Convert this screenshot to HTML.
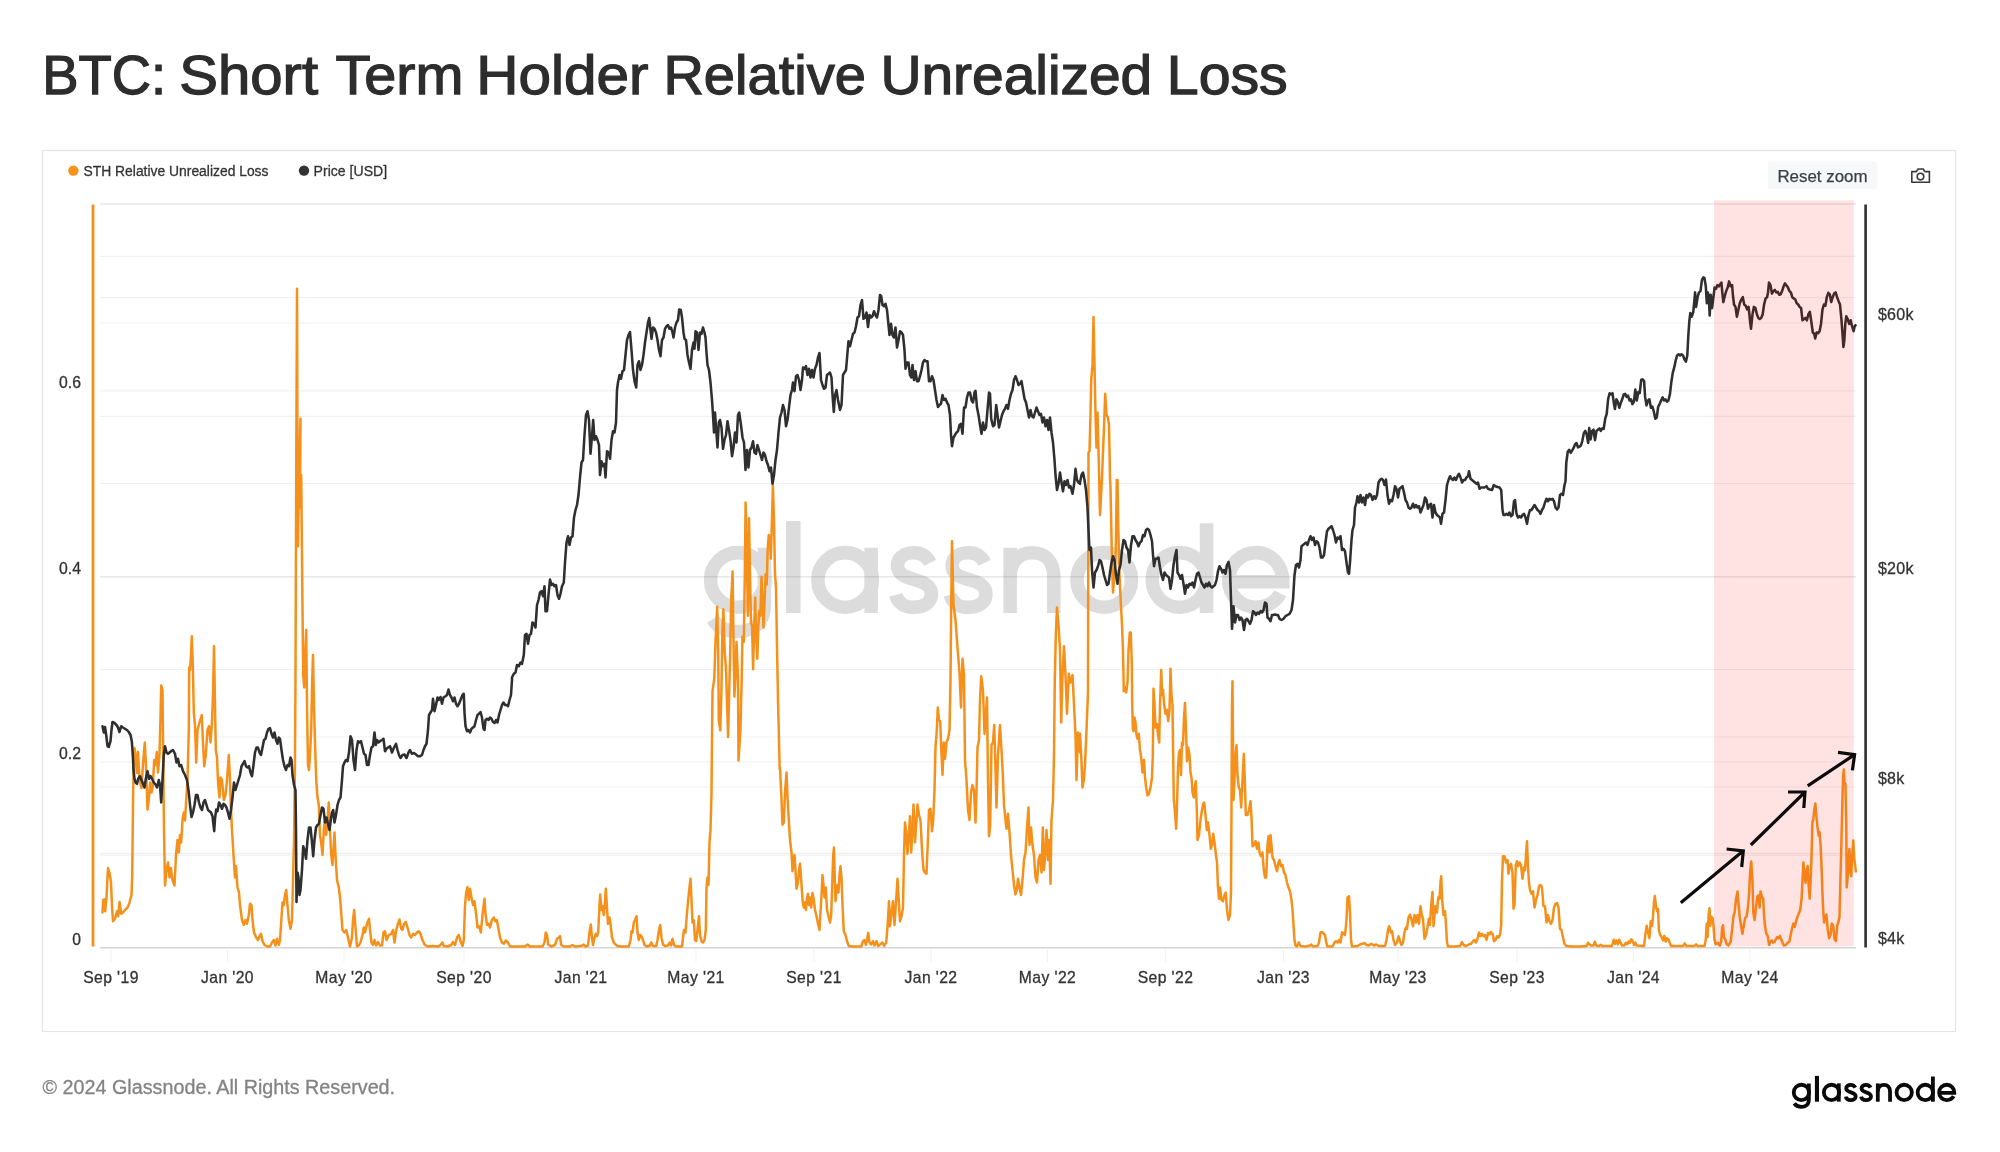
<!DOCTYPE html>
<html><head><meta charset="utf-8"><title>BTC: Short Term Holder Relative Unrealized Loss</title>
<style>
html,body{margin:0;padding:0;background:#fff;}
body{width:2000px;height:1152px;overflow:hidden;position:relative;font-family:"Liberation Sans",sans-serif;}
svg{position:absolute;left:0;top:0;will-change:transform;}
text{font-family:"Liberation Sans",sans-serif;}
.s text{stroke:#333;stroke-width:0.3px;}
</style></head><body>
<svg width="2000" height="1152" viewBox="0 0 2000 1152">
<rect x="0" y="0" width="2000" height="1152" fill="#ffffff"/>

<text x="42.13" y="93.7" font-size="54.8" fill="#2d2d2d" stroke="#2d2d2d" stroke-width="1.25" textLength="123.97" lengthAdjust="spacingAndGlyphs">BTC:</text>
<text x="179.28" y="93.7" font-size="54.8" fill="#2d2d2d" stroke="#2d2d2d" stroke-width="1.25" textLength="138.80" lengthAdjust="spacingAndGlyphs">Short</text>
<text x="335.45" y="93.7" font-size="54.8" fill="#2d2d2d" stroke="#2d2d2d" stroke-width="1.25" textLength="127.97" lengthAdjust="spacingAndGlyphs">Term</text>
<text x="476.33" y="93.7" font-size="54.8" fill="#2d2d2d" stroke="#2d2d2d" stroke-width="1.25" textLength="172.22" lengthAdjust="spacingAndGlyphs">Holder</text>
<text x="663.41" y="93.7" font-size="54.8" fill="#2d2d2d" stroke="#2d2d2d" stroke-width="1.25" textLength="202.42" lengthAdjust="spacingAndGlyphs">Relative</text>
<text x="880.45" y="93.7" font-size="54.8" fill="#2d2d2d" stroke="#2d2d2d" stroke-width="1.25" textLength="271.81" lengthAdjust="spacingAndGlyphs">Unrealized</text>
<text x="1166.82" y="93.7" font-size="54.8" fill="#2d2d2d" stroke="#2d2d2d" stroke-width="1.25" textLength="120.91" lengthAdjust="spacingAndGlyphs">Loss</text>
<rect x="42.5" y="150.5" width="1913" height="881" fill="#fff" stroke="#e3e3e3" stroke-width="1.2"/>
<g class="s">
<circle cx="73.4" cy="170.6" r="5.2" fill="#f7931a"/>
<text x="83.5" y="175.7" font-size="14.7" fill="#333" textLength="185" lengthAdjust="spacingAndGlyphs">STH Relative Unrealized Loss</text>
<circle cx="304" cy="170.6" r="5.2" fill="#333"/>
<text x="313.6" y="175.7" font-size="14.7" fill="#333" textLength="73.5" lengthAdjust="spacingAndGlyphs">Price [USD]</text>
</g>
<rect x="1768" y="161.5" width="109.5" height="27.5" rx="3" fill="#f7f8fa"/>
<text x="1777.4" y="182.4" font-size="16.4" fill="#3a3f47" stroke="#3a3f47" stroke-width="0.25" textLength="90.2" lengthAdjust="spacingAndGlyphs">Reset zoom</text>
<g fill="none" stroke="#3a3a3a" stroke-width="1.6" stroke-linejoin="round"><path d="M1911.8 171.6h4.6l1.6-2.6h5.2l1.6 2.6h4.6v10.6h-17.6z"/><circle cx="1920.5" cy="176.6" r="3.3"/></g>
<line x1="100" x2="1856" y1="204.0" y2="204.0" stroke="#000" stroke-opacity="0.058" stroke-width="1.2"/>
<line x1="100" x2="1856" y1="256.3" y2="256.3" stroke="#000" stroke-opacity="0.058" stroke-width="1.2"/>
<line x1="100" x2="1856" y1="297.5" y2="297.5" stroke="#000" stroke-opacity="0.058" stroke-width="1.2"/>
<line x1="100" x2="1856" y1="323.0" y2="323.0" stroke="#000" stroke-opacity="0.058" stroke-width="1.2"/>
<line x1="100" x2="1856" y1="390.8" y2="390.8" stroke="#000" stroke-opacity="0.058" stroke-width="1.2"/>
<line x1="100" x2="1856" y1="416.3" y2="416.3" stroke="#000" stroke-opacity="0.058" stroke-width="1.2"/>
<line x1="100" x2="1856" y1="483.5" y2="483.5" stroke="#000" stroke-opacity="0.058" stroke-width="1.2"/>
<line x1="100" x2="1856" y1="576.8" y2="576.8" stroke="#000" stroke-opacity="0.058" stroke-width="1.2"/>
<line x1="100" x2="1856" y1="576.8" y2="576.8" stroke="#000" stroke-opacity="0.058" stroke-width="1.2"/>
<line x1="100" x2="1856" y1="669.5" y2="669.5" stroke="#000" stroke-opacity="0.058" stroke-width="1.2"/>
<line x1="100" x2="1856" y1="737.0" y2="737.0" stroke="#000" stroke-opacity="0.058" stroke-width="1.2"/>
<line x1="100" x2="1856" y1="762.0" y2="762.0" stroke="#000" stroke-opacity="0.058" stroke-width="1.2"/>
<line x1="100" x2="1856" y1="787.0" y2="787.0" stroke="#000" stroke-opacity="0.058" stroke-width="1.2"/>
<line x1="100" x2="1856" y1="853.4" y2="853.4" stroke="#000" stroke-opacity="0.058" stroke-width="1.2"/>
<line x1="100" x2="1856" y1="855.2" y2="855.2" stroke="#000" stroke-opacity="0.058" stroke-width="1.2"/>
<line x1="100" x2="1856" y1="204" y2="204" stroke="#000" stroke-opacity="0.06" stroke-width="1.4"/>
<line x1="100" x2="1856" y1="947.7" y2="947.7" stroke="#d4d4d4" stroke-width="1.5"/>
<line x1="111.0" x2="111.0" y1="948.4" y2="962" stroke="#f3f3f3" stroke-width="1.2"/>
<line x1="227.5" x2="227.5" y1="948.4" y2="962" stroke="#f3f3f3" stroke-width="1.2"/>
<line x1="344.0" x2="344.0" y1="948.4" y2="962" stroke="#f3f3f3" stroke-width="1.2"/>
<line x1="464.0" x2="464.0" y1="948.4" y2="962" stroke="#f3f3f3" stroke-width="1.2"/>
<line x1="581.0" x2="581.0" y1="948.4" y2="962" stroke="#f3f3f3" stroke-width="1.2"/>
<line x1="696.0" x2="696.0" y1="948.4" y2="962" stroke="#f3f3f3" stroke-width="1.2"/>
<line x1="814.0" x2="814.0" y1="948.4" y2="962" stroke="#f3f3f3" stroke-width="1.2"/>
<line x1="931.0" x2="931.0" y1="948.4" y2="962" stroke="#f3f3f3" stroke-width="1.2"/>
<line x1="1047.5" x2="1047.5" y1="948.4" y2="962" stroke="#f3f3f3" stroke-width="1.2"/>
<line x1="1165.5" x2="1165.5" y1="948.4" y2="962" stroke="#f3f3f3" stroke-width="1.2"/>
<line x1="1283.5" x2="1283.5" y1="948.4" y2="962" stroke="#f3f3f3" stroke-width="1.2"/>
<line x1="1398.0" x2="1398.0" y1="948.4" y2="962" stroke="#f3f3f3" stroke-width="1.2"/>
<line x1="1517.0" x2="1517.0" y1="948.4" y2="962" stroke="#f3f3f3" stroke-width="1.2"/>
<line x1="1633.5" x2="1633.5" y1="948.4" y2="962" stroke="#f3f3f3" stroke-width="1.2"/>
<line x1="1750.0" x2="1750.0" y1="948.4" y2="962" stroke="#f3f3f3" stroke-width="1.2"/>
<g transform="translate(-5682.33 -3313.42) scale(3.5640)">
<g fill="none" stroke="#000000" stroke-width="3.8" opacity="0.135">
<circle cx="1801.4" cy="1092.4" r="7.65"/>
<path d="M1808.85 1083.4V1099.5C1808.85 1104.6 1805.6 1106.9 1801.3 1106.9C1798.2 1106.9 1795.8 1105.6 1794.3 1103.4"/>
<path d="M1816.95 1075.9V1101.7" stroke-width="4.1"/>
<circle cx="1831.5" cy="1092.4" r="7.65"/>
<path d="M1838.8 1083.4V1101.7"/>
<path d="M1855.30 1087.6C1854.40 1085.7 1852.80 1084.8 1850.80 1084.8C1848.20 1084.8 1846.20 1086.1 1846.20 1088.3C1846.20 1093.6 1855.70 1091.0 1855.70 1096.5C1855.70 1098.9 1853.40 1100.1 1850.70 1100.1C1848.20 1100.1 1846.30 1099.0 1845.70 1096.6"/>
<path d="M1870.60 1087.6C1869.70 1085.7 1868.10 1084.8 1866.10 1084.8C1863.50 1084.8 1861.50 1086.1 1861.50 1088.3C1861.50 1093.6 1871.00 1091.0 1871.00 1096.5C1871.00 1098.9 1868.70 1100.1 1866.00 1100.1C1863.50 1100.1 1861.60 1099.0 1861.00 1096.6"/>
<path d="M1877.8 1083.4V1101.7"/>
<path d="M1877.8 1091.5C1877.8 1087.2 1880.4 1084.8 1884 1084.8C1887.6 1084.8 1890.05 1087.2 1890.05 1091.5V1101.7"/>
<circle cx="1904.2" cy="1092.4" r="7.65"/>
<circle cx="1925.3" cy="1092.4" r="7.65"/>
<path d="M1932.9 1076.5V1101.7"/>
<path d="M1939.3 1092.9H1954.3C1954.3 1088.3 1951.2 1084.75 1946.75 1084.75C1942.5 1084.75 1939.1 1088.2 1939.1 1092.4C1939.1 1096.7 1942.5 1100.05 1946.75 1100.05C1949.9 1100.05 1952.4 1098.5 1953.6 1096.2"/>
</g>
</g>
<line x1="93" x2="93" y1="204.5" y2="946.6" stroke="#f5911b" stroke-width="2.8"/>
<polyline fill="none" stroke="#f5911b" stroke-width="2.5" stroke-linejoin="round" stroke-linecap="round" points="102.5,912.5 103.2,900.0 104.5,899.5 105.2,911.2 106.5,897.5 108.0,868.0 109.5,873.0 111.0,882.5 112.0,906.2 113.0,921.2 115.0,918.8 117.0,911.2 118.2,916.2 119.5,902.0 121.2,913.8 123.0,912.5 125.0,910.0 127.5,907.5 129.2,903.8 130.5,898.8 131.5,895.0 132.2,875.0 133.0,805.0 133.8,755.0 134.5,748.0 135.5,755.0 136.8,773.0 138.0,752.0 139.5,780.0 141.5,788.0 143.0,763.8 144.8,742.5 145.8,762.5 146.8,787.5 147.5,809.5 149.0,797.5 150.2,782.5 151.5,792.5 152.8,786.2 154.2,760.0 155.5,765.0 156.8,752.0 158.0,772.5 159.5,755.0 160.5,717.5 161.2,685.5 162.5,690.0 163.2,755.0 164.0,830.0 165.0,885.5 166.5,870.0 168.0,862.5 169.5,877.5 170.8,868.0 172.5,880.0 174.5,885.5 176.0,855.0 177.5,840.0 178.8,852.5 180.0,835.0 181.2,842.5 182.5,820.0 183.8,812.5 185.0,820.5 186.2,800.0 187.5,780.0 188.8,730.0 189.2,667.5 190.0,670.0 191.0,655.0 191.8,636.2 192.8,665.0 193.8,712.5 195.0,725.0 196.2,762.5 197.5,730.0 199.5,722.5 201.8,715.0 203.0,742.5 204.2,766.2 205.8,755.0 207.5,730.0 209.0,726.2 210.5,742.5 211.8,725.0 213.0,695.0 214.0,646.2 215.0,705.0 215.8,750.0 217.0,757.5 218.2,785.0 219.5,797.5 220.5,777.5 222.0,780.0 223.8,800.0 225.5,795.0 227.0,780.0 228.8,755.0 230.0,780.0 230.8,805.0 232.0,830.0 233.5,855.0 235.0,877.5 236.0,866.2 237.5,887.5 239.0,892.5 240.0,905.0 242.0,920.0 243.8,925.0 245.5,920.0 247.0,923.8 248.8,915.0 250.0,903.8 251.5,905.0 252.5,920.0 254.0,932.5 256.2,937.5 258.0,940.0 259.5,936.2 261.0,933.8 262.5,941.2 264.5,945.0 267.5,946.5 270.0,946.5 272.0,942.5 273.8,940.0 275.5,945.5 277.0,938.8 278.8,945.0 280.0,940.0 281.5,917.5 282.5,902.5 283.8,905.0 285.0,895.0 286.2,890.0 287.5,905.0 288.8,920.0 290.5,928.8 292.0,920.0 293.0,880.0 294.0,842.5 294.8,780.0 295.5,680.0 296.2,480.0 297.0,288.8 297.5,455.0 298.0,546.2 299.0,480.0 300.5,418.8 300.0,507.5 301.2,475.0 302.2,580.0 303.2,675.0 304.2,687.5 305.2,655.0 306.2,630.0 307.0,705.0 308.0,765.0 309.0,770.0 310.0,755.0 311.2,730.0 312.2,680.0 313.0,655.0 314.0,705.0 315.0,742.5 316.2,780.0 317.5,797.5 318.8,805.0 320.0,835.0 321.2,842.5 322.5,855.0 323.8,830.0 325.0,820.0 326.2,835.0 327.5,820.0 328.8,802.5 330.0,830.0 331.2,855.0 332.5,865.0 333.8,845.0 334.5,832.5 335.5,855.0 337.0,880.0 338.8,887.5 340.0,897.5 341.2,912.5 342.5,930.0 344.5,932.5 346.2,930.0 348.0,937.5 350.0,946.5 352.0,937.5 353.0,920.0 354.2,910.0 355.5,927.5 357.0,946.5 358.8,945.5 360.5,942.5 362.5,935.0 363.8,927.5 365.0,932.5 367.0,923.8 369.0,918.8 370.0,930.0 371.5,942.5 373.0,945.0 374.5,940.0 376.2,945.5 378.0,942.0 380.0,945.5 382.0,945.5 383.5,932.5 385.0,931.2 386.5,940.0 388.8,935.0 391.2,933.8 393.0,930.0 394.5,942.5 396.2,930.0 398.0,923.8 399.5,919.5 401.2,928.8 402.5,930.0 404.0,923.8 405.8,922.0 407.5,927.5 409.5,935.0 411.2,937.5 413.2,933.8 415.0,935.0 417.0,932.5 418.8,931.2 420.5,933.8 422.5,940.0 424.5,944.5 427.5,946.5 432.5,946.0 437.5,946.5 440.0,945.5 442.5,942.5 443.8,946.0 447.5,946.5 451.2,945.0 453.0,942.0 455.0,945.0 457.0,937.5 458.8,935.0 460.5,941.2 462.5,946.0 463.8,940.0 465.0,905.0 466.2,892.5 467.5,887.0 468.8,900.0 470.0,888.8 471.5,897.5 473.0,905.0 474.5,901.2 476.2,915.0 477.5,927.5 479.2,926.2 480.8,932.5 482.5,915.0 484.5,898.8 485.5,913.8 487.0,925.0 488.8,923.8 490.0,927.5 491.8,920.0 493.8,917.5 495.0,921.2 496.8,920.0 498.2,927.5 500.0,937.5 502.0,942.5 503.8,943.8 505.8,940.5 508.0,942.5 510.0,946.5 515.0,946.5 525.0,946.5 527.5,944.5 530.0,946.5 542.5,946.5 544.5,942.5 545.8,932.5 547.0,935.0 548.2,944.5 551.2,946.5 555.0,945.0 557.0,938.8 558.8,937.5 560.0,936.2 561.2,945.0 563.8,946.5 570.0,946.5 572.5,945.0 575.0,946.5 580.0,946.0 580.0,946.0 582.5,945.5 583.8,944.5 585.5,946.5 588.0,945.5 589.5,932.5 590.8,924.5 592.0,937.5 593.0,945.0 594.5,937.5 595.8,933.8 597.0,936.2 598.2,932.5 599.5,905.0 600.2,894.5 601.5,910.0 602.5,906.2 603.8,915.0 604.8,905.0 605.8,888.8 606.8,905.0 608.0,923.8 609.5,917.5 610.5,923.8 612.0,937.5 613.8,942.5 615.5,944.5 617.5,946.0 621.2,946.5 628.8,946.5 630.5,940.0 631.5,931.2 632.5,932.5 633.8,922.5 635.0,920.0 636.5,916.2 637.5,932.5 638.8,940.0 640.0,935.0 641.5,936.2 643.0,940.0 644.5,945.0 647.0,946.5 650.0,945.5 651.2,942.5 653.0,946.0 656.2,946.0 657.5,940.0 659.0,930.0 660.2,925.0 661.5,937.5 663.0,944.5 665.0,946.0 668.0,945.5 669.5,942.5 671.0,945.5 672.5,938.8 674.0,945.0 676.2,946.5 682.0,946.5 683.0,937.5 684.0,930.0 685.5,932.5 687.0,912.5 688.2,900.0 689.5,887.5 690.5,878.8 691.5,900.0 692.5,922.5 693.8,920.0 695.0,940.0 696.2,941.2 697.5,930.0 699.0,916.2 700.0,935.0 701.5,941.2 703.0,942.5 704.5,940.0 705.8,930.0 706.5,887.5 707.5,877.5 708.5,885.0 709.5,842.5 710.5,830.0 711.5,792.5 711.7,769.5 712.5,691.4 714.3,678.3 715.6,639.3 717.2,606.7 718.2,652.3 718.8,720.0 720.3,730.4 721.4,691.4 722.4,631.5 723.4,609.3 724.7,652.3 726.0,667.9 727.1,704.4 728.1,736.9 729.2,691.4 730.2,652.3 731.2,600.2 732.6,571.6 733.3,626.2 734.4,696.6 735.4,678.3 736.5,641.9 738.0,678.3 738.5,760.4 740.4,730.4 741.7,678.3 742.4,636.7 743.8,641.9 744.8,574.2 745.6,502.6 746.9,561.1 747.9,615.8 749.0,518.2 750.0,574.2 751.0,622.3 752.1,626.2 753.1,669.2 754.2,626.2 755.2,597.6 756.2,639.3 757.3,658.8 758.3,626.2 759.4,610.6 760.4,615.8 761.5,576.8 762.5,600.2 763.5,627.6 764.6,600.2 765.6,574.2 766.7,584.6 767.7,548.1 768.8,535.1 769.8,537.7 770.8,558.5 771.9,522.1 772.9,485.6 774.0,522.1 775.0,574.2 776.0,587.2 777.1,652.3 778.1,704.4 779.7,769.5 780.0,767.5 781.2,792.5 782.5,824.5 783.8,822.5 785.0,792.5 786.5,772.5 787.5,797.5 788.8,820.0 790.0,840.0 791.5,852.5 792.5,871.2 793.5,860.0 794.5,855.0 795.5,870.0 796.5,888.8 798.0,882.5 799.0,870.0 800.0,863.8 801.2,880.0 802.5,900.0 803.8,907.5 805.0,902.5 806.0,910.0 807.0,897.5 808.0,893.8 809.0,905.0 810.0,897.5 811.2,907.5 812.5,893.0 813.8,900.0 815.0,910.0 816.5,916.2 818.0,923.8 819.5,930.0 820.5,912.5 821.5,895.0 822.5,875.0 823.5,885.0 824.5,897.5 825.8,887.5 827.0,910.0 828.5,916.2 830.0,922.5 831.2,915.0 832.2,885.0 833.2,855.0 834.0,847.5 834.8,880.0 835.5,901.2 836.5,890.0 837.5,885.0 838.5,892.5 839.5,875.0 840.5,866.2 841.5,877.5 842.5,905.0 843.8,931.2 845.5,935.0 847.0,941.2 848.8,946.0 852.5,946.5 861.2,946.5 863.0,941.2 864.5,940.0 865.8,945.0 867.0,940.0 868.2,933.0 869.5,942.5 871.2,944.5 873.0,941.2 874.5,945.5 876.5,941.2 878.2,946.0 880.0,944.5 882.5,942.5 884.2,946.0 886.2,942.5 887.5,927.5 889.0,901.2 890.0,926.2 891.5,913.8 893.0,901.2 894.5,925.0 896.0,902.5 897.5,878.8 899.0,905.0 900.0,921.2 901.5,916.2 903.0,907.5 904.0,855.0 905.0,822.5 906.2,832.5 907.5,853.8 908.8,835.0 910.0,816.2 911.2,852.5 912.5,830.0 913.5,804.5 915.0,842.5 916.5,820.0 917.5,804.5 919.0,815.0 920.5,820.0 922.0,850.0 923.5,870.0 925.0,872.5 926.5,873.8 927.8,842.5 929.0,810.0 930.5,808.8 932.0,831.2 933.2,820.0 934.5,790.0 935.5,747.5 936.8,730.0 937.8,707.5 939.0,720.0 940.2,721.2 941.2,747.5 942.5,775.0 943.8,742.5 945.0,758.8 946.5,742.5 948.0,738.8 949.5,730.0 950.5,680.0 951.2,605.0 952.0,541.2 953.5,605.0 955.5,620.0 957.5,647.5 959.5,672.5 961.0,707.5 962.5,658.8 964.0,675.0 965.0,760.0 966.5,780.0 968.0,810.0 969.5,820.0 971.0,792.5 972.5,785.0 974.0,790.0 975.5,822.5 976.5,792.5 977.5,747.5 979.0,740.0 980.0,700.0 981.2,676.2 983.0,690.0 984.5,733.8 986.0,712.5 987.0,697.5 988.0,780.0 989.0,836.2 990.2,825.0 991.5,745.0 993.0,742.5 994.2,725.0 995.5,767.5 996.5,807.5 998.0,755.0 1000.0,725.0 1001.2,745.0 1002.5,767.5 1004.0,805.0 1005.5,820.0 1006.5,828.8 1008.0,813.8 1009.5,832.5 1011.0,855.0 1012.5,870.0 1014.0,885.0 1015.5,894.5 1016.8,890.0 1018.0,878.8 1019.5,887.5 1021.0,895.0 1022.5,880.0 1024.0,860.0 1025.5,852.5 1027.0,827.5 1028.5,807.5 1029.5,845.0 1031.0,827.5 1032.5,845.0 1034.0,855.0 1035.5,877.5 1037.0,882.5 1038.5,860.0 1040.0,855.0 1041.5,872.5 1042.8,827.5 1044.0,870.0 1045.2,855.0 1046.5,830.0 1048.0,860.0 1049.2,840.0 1050.5,883.8 1051.5,820.0 1053.0,800.0 1054.0,755.0 1054.8,680.0 1055.8,635.0 1057.0,607.5 1058.5,625.0 1060.0,650.0 1061.2,722.5 1062.5,675.0 1064.0,646.2 1065.5,675.0 1067.0,713.8 1068.8,673.8 1070.5,682.5 1072.5,675.0 1074.0,705.0 1075.5,735.0 1076.5,780.0 1078.0,732.5 1080.0,752.5 1080.0,733.8 1081.2,755.0 1082.5,787.5 1083.8,780.0 1085.0,765.0 1086.5,730.0 1088.0,692.5 1088.5,452.5 1089.5,451.2 1090.5,415.0 1091.2,380.0 1092.5,365.0 1093.5,317.0 1094.5,365.0 1095.5,415.0 1096.5,447.5 1097.5,412.5 1098.5,450.0 1100.0,515.0 1102.0,477.5 1104.0,427.5 1105.2,393.8 1106.5,415.0 1108.0,417.5 1109.0,425.0 1110.0,477.5 1110.5,487.5 1112.0,562.5 1113.0,592.5 1114.5,575.0 1115.8,550.0 1116.8,480.0 1117.5,480.0 1118.2,525.0 1119.5,575.0 1120.8,602.5 1122.0,625.0 1123.0,650.0 1123.8,691.2 1125.0,687.5 1126.2,692.5 1127.5,682.5 1128.5,650.0 1129.8,632.5 1130.8,632.5 1131.8,665.0 1132.2,705.0 1132.8,727.5 1133.5,731.2 1134.5,717.5 1135.5,722.5 1136.5,735.0 1137.5,738.8 1138.8,733.8 1140.0,750.0 1141.2,757.5 1142.5,772.5 1144.0,760.0 1145.0,777.5 1146.2,787.5 1147.5,795.5 1149.0,793.8 1150.5,787.5 1152.0,777.5 1152.8,755.0 1153.5,688.8 1154.5,705.0 1155.5,727.5 1157.0,723.8 1158.0,735.0 1159.2,742.5 1160.0,705.0 1161.2,670.0 1162.2,695.0 1163.0,690.0 1164.2,705.0 1165.5,713.8 1167.0,710.0 1168.2,721.2 1169.5,710.0 1170.5,668.8 1171.5,695.0 1172.5,705.0 1173.0,742.5 1173.8,800.0 1175.0,812.5 1176.2,828.8 1177.0,805.0 1178.0,767.5 1179.0,752.5 1180.0,750.0 1181.0,775.0 1182.0,742.5 1183.0,745.0 1184.0,717.5 1185.0,703.0 1186.0,730.0 1187.0,761.2 1188.2,747.5 1189.5,755.0 1190.5,772.5 1191.5,777.5 1192.5,792.5 1193.8,797.5 1194.8,787.5 1195.8,781.2 1196.8,810.0 1197.5,840.0 1199.0,835.0 1200.5,820.0 1202.0,810.0 1203.2,803.8 1204.2,802.5 1205.5,815.0 1206.8,830.0 1208.0,822.5 1209.5,835.0 1210.8,848.8 1212.0,845.0 1213.2,833.8 1214.5,842.5 1216.0,855.0 1217.0,862.5 1218.0,887.5 1219.0,898.8 1220.0,887.5 1221.5,900.0 1223.0,901.2 1224.5,895.0 1225.8,892.5 1227.0,910.0 1228.5,920.0 1230.0,915.0 1231.0,892.5 1231.5,805.0 1232.0,705.0 1232.5,681.2 1233.0,742.5 1233.5,800.0 1234.5,780.0 1235.5,755.0 1236.5,745.0 1237.5,775.0 1238.8,787.5 1240.0,790.0 1241.2,807.5 1242.5,780.0 1243.8,753.8 1244.8,780.0 1245.8,815.0 1247.5,815.0 1249.0,810.0 1250.5,801.2 1251.5,817.5 1252.5,846.2 1254.0,845.0 1255.5,841.2 1257.0,848.8 1258.5,842.5 1259.5,852.5 1261.0,856.2 1262.5,852.5 1263.8,870.0 1265.0,877.5 1266.2,877.5 1267.5,845.0 1268.5,836.2 1269.5,852.5 1270.5,835.0 1271.5,845.0 1272.5,857.5 1274.0,860.0 1275.5,866.2 1277.0,871.2 1278.5,862.5 1279.5,860.0 1281.0,866.2 1282.5,865.0 1284.0,872.5 1285.5,875.0 1287.0,882.5 1288.5,887.5 1290.0,891.2 1291.5,900.0 1292.5,910.0 1293.5,925.0 1294.5,940.0 1295.5,945.5 1297.0,946.5 1298.8,942.5 1300.5,946.0 1305.0,946.5 1310.0,945.5 1311.2,944.5 1313.0,946.5 1317.5,946.0 1319.0,942.5 1320.5,932.5 1322.0,932.0 1323.8,933.8 1325.0,935.0 1326.2,942.5 1327.5,946.5 1332.5,946.5 1334.5,942.5 1336.0,941.2 1337.5,942.5 1339.0,940.0 1340.5,942.5 1342.0,932.5 1343.5,933.0 1345.0,935.0 1346.5,920.0 1347.5,897.5 1349.0,896.2 1350.0,912.5 1351.0,940.0 1352.0,946.5 1357.5,946.0 1360.0,944.5 1362.5,943.8 1364.5,943.0 1366.5,945.0 1368.8,945.5 1371.2,943.8 1373.8,945.5 1376.2,944.5 1378.8,946.0 1385.0,946.0 1386.5,940.0 1388.0,930.0 1389.2,926.2 1390.8,932.5 1392.0,931.2 1393.5,940.0 1395.0,945.0 1397.0,942.5 1398.5,936.2 1400.0,941.2 1401.5,945.0 1403.0,942.5 1404.5,932.5 1405.8,927.5 1407.0,928.8 1408.5,917.5 1410.0,914.5 1411.5,920.0 1413.0,926.2 1414.5,915.0 1416.0,922.5 1417.5,915.0 1419.0,923.8 1420.5,906.2 1421.8,915.0 1423.0,918.8 1424.5,938.8 1426.0,935.0 1427.5,927.5 1428.8,918.8 1430.0,925.0 1431.2,905.0 1432.5,892.0 1433.5,926.2 1434.5,915.0 1435.5,906.2 1437.0,912.5 1438.2,897.5 1439.5,898.8 1440.5,882.5 1441.2,876.2 1442.2,900.0 1443.5,915.0 1445.0,911.2 1446.0,925.0 1447.0,942.5 1448.0,946.5 1455.0,946.5 1460.0,946.0 1462.0,942.0 1463.5,945.0 1466.2,946.0 1468.8,944.5 1471.2,943.8 1473.0,941.2 1474.5,940.0 1476.0,942.5 1477.5,938.8 1479.0,932.5 1480.5,936.2 1482.0,933.8 1483.5,936.2 1485.0,935.0 1486.5,940.0 1488.0,933.0 1489.5,934.5 1491.0,932.0 1492.5,933.8 1494.0,941.2 1495.5,940.0 1497.0,936.2 1498.5,937.5 1500.0,935.0 1501.2,925.0 1502.0,880.0 1503.0,856.2 1504.5,856.2 1506.0,862.5 1507.5,860.0 1508.5,873.8 1509.5,866.2 1511.0,863.8 1512.5,872.5 1513.5,908.8 1514.5,905.0 1515.8,865.0 1517.0,861.2 1518.2,866.2 1519.5,862.5 1521.0,865.0 1522.5,878.8 1524.0,867.5 1525.0,870.0 1526.0,855.0 1527.0,841.2 1528.0,867.5 1529.0,882.5 1530.0,890.0 1531.5,893.8 1533.0,891.2 1534.5,907.5 1536.0,900.0 1537.5,895.0 1539.0,886.2 1540.5,885.0 1542.0,887.5 1543.5,906.2 1545.0,906.2 1546.5,922.5 1548.0,915.0 1549.5,921.2 1551.0,923.8 1552.5,920.0 1554.0,907.5 1555.5,903.8 1557.0,903.0 1558.5,907.5 1560.0,928.8 1561.5,930.0 1563.0,937.5 1564.5,943.8 1566.2,946.0 1572.5,946.5 1580.0,946.5 1586.6,946.1 1588.0,942.7 1589.3,944.3 1591.2,945.6 1593.4,945.6 1594.8,941.6 1596.1,945.6 1599.5,946.1 1600.6,944.7 1602.9,946.1 1611.9,946.1 1613.7,939.8 1615.1,943.8 1616.4,940.4 1617.8,944.3 1619.2,939.8 1620.5,942.7 1622.3,945.6 1624.3,945.6 1625.9,942.7 1627.3,944.3 1628.6,941.6 1630.0,942.7 1631.3,939.3 1632.7,941.1 1634.1,945.0 1635.4,942.7 1636.8,945.6 1644.0,946.1 1645.3,934.8 1646.7,925.8 1648.0,932.5 1649.4,938.2 1650.8,921.2 1652.1,925.8 1653.0,916.7 1653.9,903.2 1654.8,896.0 1656.2,907.7 1657.1,911.1 1658.0,908.8 1658.9,930.3 1660.2,934.8 1661.6,937.1 1662.9,940.4 1664.3,935.9 1665.7,941.6 1667.0,938.2 1668.4,939.3 1669.7,942.7 1671.1,946.1 1677.4,946.1 1683.0,946.1 1684.8,943.4 1686.4,946.1 1694.3,946.1 1696.1,944.3 1697.7,946.1 1704.5,946.1 1705.8,939.3 1706.7,923.5 1707.6,937.1 1708.6,914.5 1709.5,908.2 1710.4,925.8 1711.3,916.7 1712.6,917.9 1713.5,925.8 1714.4,939.3 1715.8,944.3 1718.0,942.7 1719.8,945.6 1721.2,941.6 1722.1,928.0 1723.0,925.3 1723.9,937.1 1725.3,939.3 1726.6,943.8 1728.4,945.6 1730.7,941.6 1732.0,930.3 1733.4,916.7 1734.7,912.2 1736.1,898.7 1737.5,891.4 1738.4,903.2 1739.7,916.7 1741.1,925.8 1742.4,933.7 1743.8,925.8 1745.1,917.9 1746.5,916.7 1747.8,908.8 1749.2,891.9 1750.1,871.6 1751.2,861.4 1752.4,880.6 1753.3,912.2 1754.6,920.1 1756.0,907.7 1757.3,896.4 1758.7,895.3 1759.6,907.7 1760.5,891.4 1761.8,896.4 1763.2,898.7 1764.1,916.7 1765.0,925.8 1766.3,933.7 1767.7,935.9 1769.1,945.0 1770.4,941.6 1771.8,940.4 1773.1,942.7 1774.5,942.0 1775.8,939.3 1777.2,937.1 1778.5,938.2 1779.9,935.9 1781.2,939.3 1782.6,942.7 1784.0,945.6 1785.8,945.0 1787.6,942.7 1789.4,941.6 1790.7,934.8 1792.1,928.0 1793.4,923.5 1794.8,926.9 1796.1,921.2 1797.5,916.7 1798.9,913.3 1800.2,910.0 1801.6,898.7 1802.5,880.6 1803.4,862.6 1804.7,876.1 1805.6,882.9 1806.5,871.6 1807.7,865.9 1808.8,887.4 1809.7,898.7 1810.6,880.6 1811.5,858.0 1812.4,821.9 1813.3,819.7 1814.2,810.6 1815.3,803.4 1816.5,817.4 1817.4,826.4 1818.7,835.5 1819.6,832.1 1820.5,844.5 1821.4,862.6 1822.3,889.6 1823.2,910.0 1824.1,922.4 1825.5,916.7 1826.4,914.5 1827.8,930.3 1829.1,938.2 1830.5,934.8 1831.8,923.5 1833.2,925.8 1834.5,939.3 1835.9,941.1 1837.2,925.8 1838.6,921.2 1839.5,916.7 1840.4,880.6 1841.3,846.7 1842.2,808.4 1843.1,776.8 1843.8,769.5 1844.5,783.5 1845.4,783.5 1846.3,826.4 1846.7,887.4 1847.6,878.4 1848.5,862.6 1849.4,849.0 1850.3,871.6 1851.2,876.1 1852.1,858.0 1853.3,840.4 1854.2,858.0 1855.1,864.8 1855.8,871.6"/>
<polyline fill="none" stroke="#2f2f2f" stroke-width="2.55" stroke-linejoin="round" stroke-linecap="round" points="102.5,726.2 103.8,732.5 105.0,727.0 106.2,735.0 107.5,746.2 108.8,747.0 110.5,741.2 111.5,730.0 112.5,722.0 114.5,723.0 116.5,725.0 118.0,727.5 119.5,732.0 121.2,726.2 123.0,727.5 125.0,728.8 127.0,730.0 128.8,732.0 130.5,735.0 131.8,741.2 132.8,755.0 133.5,770.0 134.5,778.8 135.5,782.5 137.0,783.8 138.2,778.8 140.0,776.2 141.5,780.0 143.0,783.8 144.5,787.5 145.8,778.8 147.5,771.2 149.0,778.8 150.5,776.2 152.0,778.8 153.8,782.5 155.5,784.5 157.0,787.5 158.8,780.0 160.0,785.0 161.2,802.5 162.5,780.0 163.8,755.0 165.0,746.2 166.5,752.5 168.0,753.8 169.5,752.5 171.0,751.2 173.0,750.0 175.0,753.8 176.5,762.5 178.0,758.8 179.5,766.2 181.2,765.0 183.0,771.2 185.0,775.0 187.0,780.0 188.8,792.5 190.0,805.0 191.5,817.0 193.0,812.5 194.5,805.0 196.0,795.0 197.5,795.0 199.0,802.5 200.5,807.5 202.0,810.0 203.5,802.5 205.0,800.0 206.5,805.0 208.0,810.0 209.5,811.2 211.0,812.5 212.5,816.2 213.5,825.0 214.2,831.2 215.0,818.8 216.2,809.5 217.5,811.2 219.0,802.5 220.5,805.0 222.0,808.8 223.5,803.8 225.0,805.0 226.5,807.5 228.0,812.5 229.5,818.8 231.0,810.0 232.5,797.5 234.0,782.5 235.5,790.0 237.0,785.0 238.5,780.0 240.0,775.0 241.5,766.2 243.0,763.8 244.5,761.2 246.0,766.2 247.5,767.5 249.0,766.2 250.5,772.5 252.0,776.2 253.5,765.0 255.0,752.5 256.5,747.5 258.0,747.5 259.5,752.5 261.0,755.0 262.5,747.5 264.0,740.0 265.5,738.8 267.0,732.5 268.5,728.8 270.0,728.0 271.5,733.8 273.0,737.5 274.5,732.5 276.0,740.0 277.5,743.8 278.8,737.5 280.0,738.8 281.5,750.0 283.0,760.0 284.5,766.2 286.0,770.0 287.5,765.0 289.0,766.2 290.5,757.5 291.5,760.0 292.5,775.0 294.0,785.0 295.5,790.0 296.0,830.0 296.5,902.0 297.5,872.5 298.5,877.5 299.5,895.0 300.5,890.0 302.0,870.0 303.2,846.2 304.5,850.0 306.0,858.8 307.5,840.0 309.0,827.5 310.5,827.5 312.0,842.5 313.2,856.2 314.5,840.0 316.0,827.5 317.5,825.0 319.0,823.8 320.5,815.0 322.0,807.5 323.5,808.8 325.0,822.5 326.5,817.5 328.0,823.8 329.5,830.0 330.8,820.0 332.0,812.5 333.2,810.0 334.5,822.5 336.0,815.0 337.5,805.0 339.0,800.0 340.5,797.5 342.0,780.0 343.0,766.2 344.5,762.5 346.0,760.0 347.5,761.2 349.0,752.5 350.5,736.2 352.0,740.0 353.5,760.0 355.0,770.0 356.5,750.0 358.0,741.2 359.5,742.5 361.0,741.2 362.5,747.5 364.0,753.8 365.5,755.0 367.0,765.0 368.5,765.0 370.0,755.0 371.5,747.5 373.0,746.2 374.5,732.5 375.8,745.0 377.0,740.0 378.5,742.5 380.0,741.2 382.0,740.0 383.5,738.8 385.0,751.2 386.5,748.8 388.0,747.5 390.0,746.2 392.0,752.5 394.0,747.5 396.0,743.8 397.5,750.0 399.0,755.0 400.5,758.0 402.5,755.0 404.5,754.5 406.5,758.0 408.5,752.5 410.0,750.0 412.0,753.8 414.0,753.0 416.0,754.5 418.0,756.2 420.0,756.2 422.0,755.0 423.5,750.0 425.0,746.2 426.5,743.8 428.0,730.0 429.0,715.0 430.5,712.5 432.0,710.0 433.0,698.8 434.5,711.2 436.0,705.0 437.5,697.5 439.0,700.0 440.5,697.0 442.0,703.8 443.5,697.5 445.5,696.2 447.0,695.0 448.5,689.5 450.0,695.0 451.5,697.5 453.0,701.2 454.5,697.5 456.0,703.8 457.5,706.2 459.0,703.8 460.5,700.0 462.5,695.0 463.8,693.8 464.5,712.5 465.5,726.2 467.0,731.2 468.5,730.0 470.0,732.5 471.5,728.8 473.0,727.5 474.5,726.2 476.0,720.0 477.5,715.0 479.0,713.8 480.5,712.0 482.0,717.5 483.5,728.8 484.5,730.0 485.5,720.0 487.0,718.8 488.5,720.0 490.0,717.5 491.5,718.8 493.0,722.0 494.5,723.0 496.0,720.0 497.5,722.5 499.0,715.0 500.5,710.0 502.0,705.0 503.5,702.5 505.0,705.0 506.5,705.0 508.0,706.2 509.5,700.0 511.0,695.0 512.0,680.0 512.0,677.5 513.8,673.8 515.5,672.5 517.0,665.0 518.8,666.2 520.5,662.5 522.0,663.8 523.8,655.0 525.0,635.0 526.5,633.8 528.0,643.8 529.5,635.0 531.0,633.8 532.5,622.5 534.0,623.8 535.5,627.5 537.0,605.0 538.5,600.0 540.0,592.5 541.5,591.2 543.0,596.2 544.5,586.2 545.5,611.2 547.0,611.2 548.5,595.0 550.0,579.5 551.5,585.0 553.0,583.8 554.5,586.2 556.0,585.0 557.5,595.0 559.0,598.8 560.5,593.8 562.0,586.2 563.8,582.5 565.0,562.5 566.5,542.5 568.0,536.2 569.5,545.0 571.0,537.5 572.5,536.2 574.0,517.5 575.5,510.0 577.0,505.0 578.5,495.0 580.0,477.5 581.5,462.5 583.0,460.0 584.5,435.0 586.0,415.0 587.5,411.2 589.0,420.0 590.5,453.8 592.0,436.2 593.2,420.0 594.5,440.0 596.0,436.2 597.5,440.0 599.0,445.0 600.0,475.0 601.5,461.2 603.0,466.2 604.5,463.8 605.5,477.5 607.0,451.2 608.5,452.5 610.0,458.8 611.5,440.0 613.0,431.2 614.5,432.5 616.0,422.5 617.0,390.0 618.0,382.5 619.5,375.0 621.0,378.8 622.5,371.2 624.0,370.0 625.5,355.0 627.0,340.0 628.5,335.0 630.0,332.0 631.5,350.0 633.0,370.0 634.5,381.2 636.2,387.5 637.5,365.0 639.0,361.2 640.5,370.0 642.0,365.0 643.5,355.0 645.0,342.5 646.5,332.5 648.0,322.5 649.2,318.0 650.5,330.0 651.5,338.8 653.0,327.5 654.5,328.8 656.0,332.5 657.5,340.0 659.0,350.0 660.5,356.2 662.0,340.0 663.5,337.5 665.0,328.8 666.5,326.2 668.0,325.0 669.5,328.8 671.0,327.5 672.5,332.5 673.5,337.5 675.0,327.5 676.5,322.5 678.0,320.0 679.2,309.5 680.8,310.0 682.0,317.5 683.5,332.5 684.5,338.8 686.0,340.0 687.5,355.0 689.0,362.5 690.5,368.8 692.0,350.0 693.5,342.5 694.5,348.8 695.5,331.2 697.0,332.5 698.5,350.0 700.0,332.5 701.5,333.8 703.0,327.5 704.5,332.5 705.5,337.5 706.5,352.5 707.5,365.0 709.0,370.0 710.5,382.5 712.0,400.0 713.0,415.0 714.0,432.5 715.0,412.5 716.2,430.0 717.5,447.5 718.8,422.5 720.0,420.0 721.5,427.5 723.0,448.8 724.5,440.0 726.0,435.0 727.5,421.2 729.0,430.0 730.5,440.0 732.0,456.2 733.5,447.5 735.0,432.5 736.5,442.5 738.0,415.0 739.2,412.5 741.0,425.0 742.5,437.5 744.0,442.5 745.5,470.0 747.0,450.0 748.5,467.5 750.0,450.0 751.5,447.5 753.0,441.2 754.5,452.5 756.0,453.8 757.5,445.0 759.0,450.0 760.5,455.0 762.0,460.0 763.5,452.5 765.0,455.0 766.5,461.2 768.0,465.0 769.5,471.2 771.0,467.5 772.5,483.8 774.0,475.0 775.5,460.0 777.0,450.0 778.5,432.5 780.0,417.5 781.5,412.5 783.0,405.0 784.5,410.0 786.0,426.2 787.5,420.0 789.0,407.5 790.5,395.0 792.0,390.0 793.0,382.5 794.5,391.2 796.0,376.2 797.5,375.0 799.0,380.0 800.5,390.0 802.0,380.0 803.0,367.5 804.5,368.8 806.0,366.2 807.5,375.0 809.0,368.8 810.5,377.5 812.0,370.0 813.5,377.5 815.0,368.8 816.5,365.0 818.0,357.5 819.5,353.0 821.0,380.0 822.5,385.0 824.0,388.8 825.5,387.5 827.0,375.0 828.5,373.8 830.0,372.5 831.5,377.5 832.5,395.0 833.8,412.0 835.0,395.0 836.5,390.0 838.0,400.0 840.0,410.0 841.5,405.0 843.0,375.0 844.5,372.5 846.0,370.0 847.5,352.5 848.5,341.2 850.0,346.2 851.5,340.0 853.0,333.8 854.5,332.5 856.0,326.2 857.5,317.5 859.0,316.2 860.5,305.0 862.0,300.0 863.5,318.8 865.0,317.5 866.5,312.5 868.0,327.0 869.5,315.0 871.0,317.5 872.5,316.2 874.0,311.2 875.5,315.0 877.0,317.5 878.5,310.0 880.0,295.0 881.2,296.2 882.5,305.0 884.0,306.2 885.5,303.8 887.0,310.0 888.0,320.0 889.5,335.0 891.0,323.8 892.5,335.0 894.0,337.5 895.5,327.5 897.0,347.5 898.5,340.0 900.0,331.2 901.5,332.5 903.0,335.0 904.5,350.0 905.5,368.8 907.0,362.5 908.5,362.5 910.0,375.0 911.5,377.5 912.5,365.0 914.0,380.0 915.5,371.2 917.0,381.2 918.5,381.2 920.0,376.2 921.5,370.0 923.0,362.5 924.5,360.0 926.0,361.2 927.5,361.2 929.0,381.2 930.5,381.2 932.0,376.2 933.5,380.0 935.0,390.0 936.5,400.0 938.0,407.0 939.5,405.0 941.0,403.8 942.5,395.0 944.0,400.0 945.5,398.8 947.0,402.5 948.5,405.0 950.0,415.0 951.0,435.0 952.0,446.2 953.5,437.5 955.0,435.0 956.5,432.5 958.0,431.2 959.5,425.0 961.0,423.8 962.5,433.8 964.0,407.5 965.5,407.5 967.0,397.5 968.5,392.5 970.0,392.5 971.5,400.0 973.0,402.5 974.5,392.5 975.5,390.8 977.0,407.5 978.5,415.0 980.0,425.0 981.5,433.8 983.0,422.5 984.5,430.0 986.0,427.5 987.5,410.0 989.0,392.5 990.0,393.8 991.2,418.8 993.0,426.2 994.5,425.0 996.2,405.0 997.5,415.0 999.0,427.5 1000.5,421.2 1002.0,415.0 1003.5,411.2 1005.0,408.8 1006.5,405.0 1008.0,408.8 1009.5,400.0 1011.0,393.8 1012.5,390.0 1014.0,380.0 1015.5,376.2 1017.0,380.0 1018.5,385.0 1020.0,383.8 1021.5,381.2 1023.0,390.0 1024.5,398.8 1026.0,402.5 1027.5,410.0 1029.0,417.5 1030.5,410.0 1032.0,416.2 1033.5,417.5 1035.0,412.5 1036.5,407.5 1038.0,411.2 1039.5,415.0 1041.0,413.8 1042.5,422.5 1044.0,417.5 1045.5,426.2 1047.0,420.0 1048.5,430.0 1050.0,417.5 1051.5,432.5 1053.0,442.5 1054.5,460.0 1055.5,475.0 1057.0,490.0 1058.5,483.8 1060.0,472.5 1061.5,482.5 1063.0,491.2 1064.5,481.2 1066.0,485.0 1067.5,480.0 1069.0,487.5 1070.5,486.2 1072.5,493.8 1074.0,485.0 1075.5,468.8 1077.0,480.0 1078.5,482.5 1080.0,483.8 1080.0,482.5 1081.5,475.0 1083.0,472.5 1084.5,480.0 1086.0,490.0 1087.5,507.5 1088.5,530.0 1089.5,550.0 1091.0,547.5 1092.0,570.0 1093.5,587.5 1095.0,572.5 1096.5,570.0 1098.0,566.2 1099.5,560.0 1101.0,561.2 1102.5,567.5 1104.0,575.0 1105.5,580.0 1107.0,585.0 1108.5,583.8 1110.0,572.5 1111.5,562.5 1113.0,556.2 1114.5,560.0 1116.0,575.0 1117.5,583.8 1119.0,570.0 1120.5,565.0 1122.0,550.0 1123.5,540.0 1125.0,541.2 1126.5,547.5 1128.0,550.0 1129.5,562.5 1131.0,545.0 1132.5,536.2 1134.0,536.2 1135.5,540.0 1137.0,542.5 1138.5,546.2 1140.0,542.5 1141.5,541.2 1143.0,535.0 1144.5,536.2 1146.0,530.0 1147.5,528.8 1149.0,530.0 1150.5,535.0 1152.0,541.2 1153.0,555.0 1154.0,566.2 1155.5,558.8 1157.0,558.8 1158.5,557.5 1160.0,567.5 1161.5,575.0 1163.0,580.0 1164.5,572.5 1166.0,575.0 1167.5,576.2 1169.0,577.5 1170.5,588.8 1172.0,580.0 1173.5,565.0 1175.0,556.2 1176.5,550.0 1177.5,572.5 1179.0,575.0 1180.5,578.8 1182.0,575.0 1183.5,583.8 1185.0,593.8 1186.5,585.0 1188.0,587.5 1189.5,583.8 1191.0,585.0 1192.5,582.5 1194.0,587.5 1195.5,580.0 1197.0,573.8 1198.5,572.5 1200.0,577.5 1201.5,582.5 1203.0,585.0 1204.5,587.5 1206.0,583.8 1207.5,586.2 1209.0,582.5 1210.5,586.2 1212.0,587.5 1213.5,586.2 1215.0,585.0 1216.5,580.0 1218.0,571.2 1219.5,566.2 1221.0,568.8 1222.5,572.5 1224.0,570.0 1225.5,573.8 1227.0,565.0 1228.5,562.0 1230.0,570.0 1231.0,600.0 1232.0,628.8 1233.5,606.2 1235.0,622.5 1236.5,615.0 1238.0,615.0 1239.5,620.0 1241.0,617.5 1242.5,620.0 1244.0,630.0 1245.5,620.0 1247.0,618.8 1248.5,621.2 1250.0,623.8 1251.5,620.0 1253.0,611.2 1254.5,612.5 1256.0,615.0 1257.5,612.5 1259.0,613.8 1260.5,611.2 1262.0,612.5 1263.5,610.0 1265.0,602.5 1266.5,603.8 1267.5,617.5 1269.0,618.8 1270.5,621.2 1272.0,615.0 1273.5,615.0 1275.0,614.5 1276.5,615.0 1278.0,615.0 1279.5,618.8 1281.5,620.0 1283.5,618.8 1285.5,616.2 1287.5,615.0 1289.5,613.8 1291.5,610.0 1293.0,600.0 1294.5,575.0 1296.0,565.0 1297.5,563.8 1299.0,567.5 1300.5,560.0 1301.5,546.2 1303.0,545.0 1304.5,543.8 1306.0,542.5 1307.5,545.0 1309.0,540.0 1310.5,536.2 1312.0,540.0 1313.5,537.5 1315.0,545.0 1316.5,541.2 1318.0,542.5 1319.5,547.5 1321.0,557.5 1322.5,557.5 1324.0,555.0 1325.5,542.5 1327.0,531.2 1328.5,528.8 1330.0,527.5 1331.5,526.2 1333.0,530.0 1334.5,535.0 1336.0,542.5 1337.5,537.5 1339.0,538.8 1340.5,536.2 1342.0,550.0 1343.5,548.8 1345.0,551.2 1346.5,562.5 1348.0,572.5 1349.0,573.8 1350.0,562.5 1351.5,540.0 1352.5,530.0 1354.0,525.0 1355.0,507.5 1356.5,502.5 1357.5,496.2 1359.0,502.5 1360.5,495.0 1362.0,502.5 1363.5,497.5 1365.0,505.0 1366.5,495.0 1368.0,497.5 1369.5,493.8 1371.0,495.0 1372.5,500.0 1374.0,496.2 1375.5,498.8 1377.0,495.0 1378.5,482.5 1380.0,480.0 1381.5,478.8 1383.0,480.0 1384.5,485.0 1386.0,479.5 1387.5,495.0 1389.0,503.8 1390.5,500.0 1392.0,501.2 1393.5,495.0 1395.0,486.2 1396.5,488.8 1398.0,497.5 1399.5,488.8 1401.0,487.5 1402.5,486.2 1404.0,492.5 1405.5,500.0 1407.0,502.5 1408.5,507.5 1410.0,508.8 1411.5,507.5 1413.0,503.8 1414.5,507.5 1416.0,505.0 1417.5,507.5 1419.0,506.2 1420.5,512.5 1422.0,508.8 1423.5,505.0 1425.0,497.5 1426.5,500.0 1428.0,508.8 1429.5,505.0 1431.0,503.8 1432.5,517.5 1434.0,505.0 1435.5,512.5 1437.0,515.0 1438.5,516.2 1440.0,517.5 1441.0,523.8 1442.5,513.8 1444.0,512.5 1445.5,500.0 1447.0,485.0 1448.5,480.0 1450.0,476.2 1451.5,478.8 1453.0,480.0 1454.5,477.5 1456.0,480.0 1457.5,476.2 1459.0,473.8 1460.5,477.5 1462.0,482.5 1463.5,480.0 1465.0,480.0 1466.5,477.5 1468.0,476.2 1469.0,471.2 1470.5,478.8 1472.0,480.0 1473.5,481.2 1475.0,482.5 1476.5,483.8 1478.0,482.5 1479.5,488.8 1481.0,487.5 1482.5,487.5 1484.5,487.5 1486.5,486.2 1488.0,488.8 1490.0,489.5 1492.0,490.0 1493.8,485.0 1495.5,486.2 1497.5,487.0 1499.5,487.5 1501.2,490.0 1502.5,510.0 1503.5,515.0 1505.0,515.0 1506.5,513.8 1508.0,515.0 1509.5,512.5 1511.0,516.2 1512.5,515.0 1514.0,501.2 1515.0,500.0 1516.5,513.8 1518.0,517.5 1519.5,516.2 1521.0,517.5 1522.5,515.0 1524.0,513.8 1525.5,517.5 1527.0,523.8 1528.5,515.0 1530.0,510.0 1531.5,510.0 1533.0,507.5 1534.5,505.0 1536.0,507.5 1537.5,510.0 1539.0,511.2 1540.5,513.8 1542.0,510.0 1543.5,507.5 1545.0,502.5 1546.5,498.8 1548.0,501.2 1549.5,498.8 1551.0,499.5 1552.5,498.8 1554.0,501.2 1555.5,507.5 1557.0,509.5 1558.5,507.5 1560.0,495.0 1561.5,493.8 1563.0,495.0 1564.5,485.0 1565.5,481.2 1566.3,462.5 1567.8,451.5 1569.2,449.8 1570.7,452.8 1572.2,450.3 1573.6,447.9 1575.1,444.2 1576.5,443.0 1578.0,447.4 1579.4,446.7 1580.9,445.5 1582.4,440.6 1583.8,433.3 1585.3,430.9 1586.7,434.5 1588.2,443.0 1589.2,428.0 1590.6,439.4 1592.1,430.9 1593.5,429.7 1595.0,440.1 1596.5,430.9 1597.9,429.7 1599.4,428.4 1600.8,430.9 1602.3,428.4 1603.7,428.9 1605.2,418.7 1606.7,413.9 1608.1,399.3 1609.6,393.2 1611.0,394.4 1612.5,393.2 1614.0,404.1 1614.9,409.0 1616.4,399.3 1617.8,401.7 1619.3,407.8 1620.8,402.9 1622.2,399.3 1623.7,394.4 1625.1,393.9 1626.6,396.9 1628.0,395.6 1629.5,400.5 1631.0,399.3 1632.4,404.1 1633.9,401.7 1635.3,389.6 1636.8,400.5 1638.3,392.0 1639.7,393.2 1641.2,379.8 1642.6,379.4 1644.1,381.1 1645.1,396.9 1646.5,405.4 1648.0,400.5 1649.4,399.3 1650.9,407.8 1652.4,406.6 1653.8,411.4 1655.3,418.7 1656.7,417.5 1658.2,406.6 1659.6,404.1 1661.1,400.5 1662.6,397.3 1664.0,400.5 1665.5,399.3 1666.9,401.7 1668.4,400.5 1669.9,394.4 1671.3,382.3 1672.8,372.6 1674.2,367.7 1675.7,360.4 1677.1,355.5 1678.6,354.3 1680.1,355.5 1681.5,354.3 1683.0,355.5 1684.4,359.2 1685.9,361.6 1687.3,355.5 1688.3,336.1 1689.3,321.5 1690.3,313.0 1691.7,316.7 1693.2,312.3 1694.2,302.1 1695.1,292.4 1696.1,306.9 1697.6,297.2 1699.0,292.4 1700.5,291.1 1701.9,280.2 1703.4,277.3 1704.4,277.8 1705.8,286.3 1706.8,303.3 1707.8,292.4 1708.7,296.0 1709.7,315.4 1710.7,294.8 1712.1,308.1 1713.1,299.6 1714.6,287.5 1716.0,288.7 1717.5,285.1 1718.9,286.3 1720.4,283.8 1721.4,282.6 1722.3,292.4 1723.3,302.1 1724.8,296.0 1726.2,291.1 1727.7,287.5 1729.1,281.4 1730.6,286.3 1732.1,285.1 1733.0,296.0 1734.0,304.5 1735.5,306.9 1736.9,316.7 1738.4,309.4 1739.8,303.3 1741.3,299.6 1742.8,297.2 1744.2,304.5 1745.7,305.7 1747.1,309.4 1748.6,306.9 1750.1,321.5 1751.0,328.8 1752.5,314.2 1753.9,306.9 1755.4,308.1 1756.9,314.2 1758.3,317.9 1759.8,319.1 1761.2,317.9 1762.7,314.2 1764.1,304.5 1765.6,298.4 1767.1,297.2 1768.0,292.4 1769.0,282.6 1770.5,285.1 1771.9,293.6 1773.4,291.1 1774.8,289.9 1776.3,292.4 1777.8,291.9 1779.2,294.8 1780.7,294.3 1782.1,291.1 1783.6,286.3 1785.0,283.4 1786.5,285.5 1788.0,287.5 1789.4,291.1 1790.9,292.4 1792.3,297.2 1793.8,298.4 1795.3,299.6 1796.7,303.3 1798.2,304.5 1799.6,306.9 1801.1,308.1 1802.5,320.3 1804.0,319.1 1805.5,317.9 1806.9,320.3 1808.4,314.2 1809.8,311.8 1811.3,321.5 1812.8,332.5 1814.2,333.7 1815.2,338.5 1816.6,332.5 1818.1,333.2 1819.6,331.2 1821.0,323.9 1822.5,309.4 1823.9,304.5 1825.4,305.7 1826.8,297.2 1828.3,292.8 1829.8,294.3 1831.2,302.1 1832.7,297.2 1834.1,293.6 1835.6,292.4 1837.1,297.2 1838.5,300.9 1840.0,304.5 1841.4,319.1 1842.4,332.5 1843.4,347.0 1844.3,341.0 1845.3,323.9 1846.3,316.2 1847.7,319.1 1849.2,323.9 1850.7,320.3 1852.1,326.4 1853.6,331.2 1854.6,326.4 1855.5,325.2"/>
<rect x="1714" y="200.3" width="139.8" height="746" fill="#ff0000" fill-opacity="0.11"/>
<line x1="1865.6" x2="1865.6" y1="204.5" y2="947.5" stroke="#2e2e2e" stroke-width="2.6"/>
<path d="M1680.8 902.7L1743.3 850.8M1726.6 849.0L1743.3 850.8L1741.7 867.0" fill="none" stroke="#0c0c0c" stroke-width="3.2" stroke-linecap="butt" stroke-linejoin="miter"/>
<path d="M1750.8 845.0L1805.0 792.0M1788.0 792.0L1805.0 792.0L1803.8 808.0" fill="none" stroke="#0c0c0c" stroke-width="3.2" stroke-linecap="butt" stroke-linejoin="miter"/>
<path d="M1807.7 785.8L1854.6 754.6M1838.0 752.4L1854.6 754.6L1852.4 770.4" fill="none" stroke="#0c0c0c" stroke-width="3.2" stroke-linecap="butt" stroke-linejoin="miter"/>
<g class="s">
<text x="80.9" y="388.4" font-size="16.1" fill="#333" text-anchor="end" textLength="21.9" lengthAdjust="spacingAndGlyphs">0.6</text>
<text x="80.9" y="573.9" font-size="16.1" fill="#333" text-anchor="end" textLength="21.9" lengthAdjust="spacingAndGlyphs">0.4</text>
<text x="80.9" y="759.3" font-size="16.1" fill="#333" text-anchor="end" textLength="21.9" lengthAdjust="spacingAndGlyphs">0.2</text>
<text x="80.9" y="944.6" font-size="16.1" fill="#333" text-anchor="end" textLength="8.7" lengthAdjust="spacingAndGlyphs">0</text>
<text x="1877.9" y="319.5" font-size="16" letter-spacing="0.3" fill="#333">$60k</text>
<text x="1877.9" y="573.5" font-size="16" letter-spacing="0.3" fill="#333">$20k</text>
<text x="1877.9" y="783.5" font-size="16" letter-spacing="0.3" fill="#333">$8k</text>
<text x="1877.9" y="944.2" font-size="16" letter-spacing="0.3" fill="#333">$4k</text>
<text x="111.0" y="983.2" font-size="15.7" letter-spacing="0.42" fill="#333" text-anchor="middle">Sep '19</text>
<text x="227.5" y="983.2" font-size="15.7" letter-spacing="0.42" fill="#333" text-anchor="middle">Jan '20</text>
<text x="344.0" y="983.2" font-size="15.7" letter-spacing="0.42" fill="#333" text-anchor="middle">May '20</text>
<text x="464.0" y="983.2" font-size="15.7" letter-spacing="0.42" fill="#333" text-anchor="middle">Sep '20</text>
<text x="581.0" y="983.2" font-size="15.7" letter-spacing="0.42" fill="#333" text-anchor="middle">Jan '21</text>
<text x="696.0" y="983.2" font-size="15.7" letter-spacing="0.42" fill="#333" text-anchor="middle">May '21</text>
<text x="814.0" y="983.2" font-size="15.7" letter-spacing="0.42" fill="#333" text-anchor="middle">Sep '21</text>
<text x="931.0" y="983.2" font-size="15.7" letter-spacing="0.42" fill="#333" text-anchor="middle">Jan '22</text>
<text x="1047.5" y="983.2" font-size="15.7" letter-spacing="0.42" fill="#333" text-anchor="middle">May '22</text>
<text x="1165.5" y="983.2" font-size="15.7" letter-spacing="0.42" fill="#333" text-anchor="middle">Sep '22</text>
<text x="1283.5" y="983.2" font-size="15.7" letter-spacing="0.42" fill="#333" text-anchor="middle">Jan '23</text>
<text x="1398.0" y="983.2" font-size="15.7" letter-spacing="0.42" fill="#333" text-anchor="middle">May '23</text>
<text x="1517.0" y="983.2" font-size="15.7" letter-spacing="0.42" fill="#333" text-anchor="middle">Sep '23</text>
<text x="1633.5" y="983.2" font-size="15.7" letter-spacing="0.42" fill="#333" text-anchor="middle">Jan '24</text>
<text x="1750.0" y="983.2" font-size="15.7" letter-spacing="0.42" fill="#333" text-anchor="middle">May '24</text>
</g>
<text x="42.6" y="1093.6" font-size="19.6" fill="#838383" stroke="#838383" stroke-width="0.3" textLength="352.5" lengthAdjust="spacingAndGlyphs">© 2024 Glassnode. All Rights Reserved.</text>
<g fill="none" stroke="#0a0a0a" stroke-width="3.8">
<circle cx="1801.4" cy="1092.4" r="7.65"/>
<path d="M1808.85 1083.4V1099.5C1808.85 1104.6 1805.6 1106.9 1801.3 1106.9C1798.2 1106.9 1795.8 1105.6 1794.3 1103.4"/>
<path d="M1816.95 1075.9V1101.7" stroke-width="4.1"/>
<circle cx="1831.5" cy="1092.4" r="7.65"/>
<path d="M1838.8 1083.4V1101.7"/>
<path d="M1855.30 1087.6C1854.40 1085.7 1852.80 1084.8 1850.80 1084.8C1848.20 1084.8 1846.20 1086.1 1846.20 1088.3C1846.20 1093.6 1855.70 1091.0 1855.70 1096.5C1855.70 1098.9 1853.40 1100.1 1850.70 1100.1C1848.20 1100.1 1846.30 1099.0 1845.70 1096.6"/>
<path d="M1870.60 1087.6C1869.70 1085.7 1868.10 1084.8 1866.10 1084.8C1863.50 1084.8 1861.50 1086.1 1861.50 1088.3C1861.50 1093.6 1871.00 1091.0 1871.00 1096.5C1871.00 1098.9 1868.70 1100.1 1866.00 1100.1C1863.50 1100.1 1861.60 1099.0 1861.00 1096.6"/>
<path d="M1877.8 1083.4V1101.7"/>
<path d="M1877.8 1091.5C1877.8 1087.2 1880.4 1084.8 1884 1084.8C1887.6 1084.8 1890.05 1087.2 1890.05 1091.5V1101.7"/>
<circle cx="1904.2" cy="1092.4" r="7.65"/>
<circle cx="1925.3" cy="1092.4" r="7.65"/>
<path d="M1932.9 1076.5V1101.7"/>
<path d="M1939.3 1092.9H1954.3C1954.3 1088.3 1951.2 1084.75 1946.75 1084.75C1942.5 1084.75 1939.1 1088.2 1939.1 1092.4C1939.1 1096.7 1942.5 1100.05 1946.75 1100.05C1949.9 1100.05 1952.4 1098.5 1953.6 1096.2"/>
</g>
</svg></body></html>
